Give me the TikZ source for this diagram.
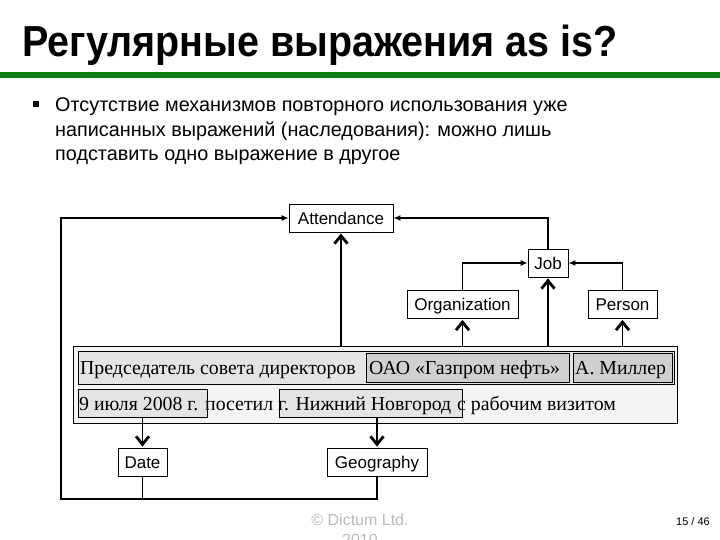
\documentclass[tikz,border=0pt]{standalone}
\usepackage{fontspec}
\setmainfont{Liberation Sans}
\newfontfamily\serifru{Liberation Serif}
\usetikzlibrary{arrows.meta}
\definecolor{titlegreen}{RGB}{16,125,16}
\definecolor{outerfill}{RGB}{244,244,244}
\definecolor{rowfill}{RGB}{228,228,228}
\definecolor{hifill}{RGB}{208,208,208}
\definecolor{footgray}{RGB}{185,185,185}
\begin{document}
\begin{tikzpicture}[x=1pt,y=-1pt,
  lbl/.style={draw, line width=0.9pt, fill=white, font=\fontsize{17}{20}\selectfont,
    inner xsep=0pt, inner ysep=0pt, minimum height=28pt, text height=12.5pt, text depth=0pt},
  frame/.style={draw, line width=0.9pt, inner sep=0pt},
  rutext/.style={anchor=base west, inner sep=0pt, font=\serifru\fontsize{19.8}{22}\selectfont},
  conn/.style={line width=1.2pt},
  fillarrow/.style={conn, -{Latex[length=7pt,width=6pt]}},
  chev/.style={conn, -{Straight Barb[length=8pt,width=13pt,line width'=2.8pt]}, shorten >=1pt},
  bodytext/.style={anchor=base west, inner sep=0pt, font=\fontsize{19.8}{25}\selectfont}
]
\useasboundingbox (0,0) rectangle (720,540);
\clip (0,0) rectangle (720,540);

% title
\node[anchor=base west, inner sep=0pt, font=\fontsize{39.5}{42}\selectfont\bfseries] (title) at (22,57) {\scalebox{1}[1.1]{Регулярные выражения as is?}};
\fill[titlegreen] (0,72) rectangle (720,78);

% bullet
\node[fill, minimum size=6pt, inner sep=0pt] (bullet) at (36,104) {};
\node[bodytext] (l1) at (55,112) {Отсутствие механизмов повторного использования уже};
\node[bodytext] (l2) at (55,137) {написанных выражений (наследования): можно лишь};
\node[bodytext] (l3) at (55,161) {подставить одно выражение в другое};

% type nodes
\node[lbl, minimum width=104pt] (att) at (341,218) {Attendance};
\node[lbl, minimum width=40pt] (job) at (548,263) {Job};
\node[lbl, minimum width=111pt] (org) at (462.5,304.5) {Organization};
\node[lbl, minimum width=69pt] (per) at (622.5,304.5) {Person};
\node[lbl, minimum width=49pt] (date) at (142.5,462) {Date};
\node[lbl, minimum width=100pt] (geo) at (377,462) {Geography};

% text frames
\node[frame, fill=outerfill, minimum width=604pt, minimum height=77pt] (outer) at (375,384.5) {};
\node[frame, fill=rowfill, minimum width=596pt, minimum height=33pt] (row) at (376,367.5) {};
\node[frame, fill=hifill, minimum width=203pt, minimum height=29pt] (oao) at (467.5,367.5) {};
\node[frame, fill=hifill, minimum width=99pt, minimum height=29pt] (mil) at (622.5,367.5) {};
\node[frame, fill=rowfill, minimum width=129pt, minimum height=28pt] (d9) at (142.5,403) {};
\node[frame, fill=rowfill, minimum width=183pt, minimum height=28pt] (nn) at (370.5,403) {};

% texts
\node[rutext] (t1) at (80,374) {Председатель совета директоров};
\node[rutext] (t2) at (369,374) {ОАО «Газпром нефть»};
\node[rutext] (t3) at (575,374) {А. Миллер};
\node[rutext] (t4) at (79,410) {9 июля 2008 г.};
\node[rutext] (t5) at (205,410) {посетил};
\node[rutext] (t6) at (278,410) {г. Нижний Новгород};
\node[rutext] (t7) at (457,410) {с рабочим визитом};

% connectors
\coordinate (lb) at (61,499);
\draw[conn] (date.south) -- (date.south |- lb);
\draw[fillarrow] (geo.south) |- (lb) |- (att.west);
\draw[fillarrow] (job.north) |- (att.east);
\draw[fillarrow] (org.north) |- (job.west);
\draw[fillarrow] (per.north) |- (job.east);

\draw[chev] (outer.north -| att.south) -- (att.south);
\draw[chev] (outer.north -| org.south) -- (org.south);
\draw[chev] (outer.north -| job.south) -- (job.south);
\draw[chev] (outer.north -| per.south) -- (per.south);
\draw[chev] (d9.south) -- (date.north);
\draw[chev] (nn.south -| geo.north) -- (geo.north);

% footer
\node[anchor=base, inner sep=0pt, text=footgray, font=\fontsize{16}{18}\selectfont] (copy1) at (360,525) {© Dictum Ltd.};
\node[anchor=base, inner sep=0pt, text=footgray, font=\fontsize{16}{18}\selectfont] (copy2) at (360,545) {2010};
\node[anchor=base east, inner sep=0pt, font=\fontsize{11}{13}\selectfont] (page) at (710,525) {15 / 46};
\end{tikzpicture}
\end{document}
